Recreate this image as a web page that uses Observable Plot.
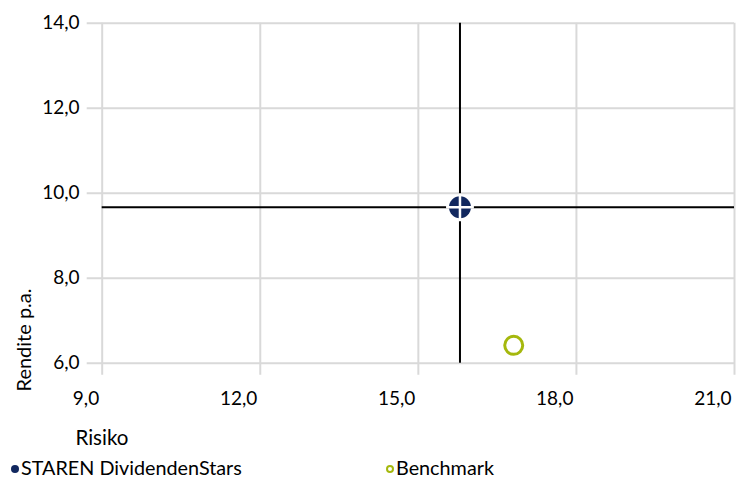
<!DOCTYPE html>
<html>
<head>
<meta charset="utf-8">
<script src="https://cdn.jsdelivr.net/npm/d3@7"></script>
<script src="https://cdn.jsdelivr.net/npm/@observablehq/plot@0.6"></script>
<style>
  body { margin: 0; background: #fff; font-family: Lato, "Open Sans", sans-serif; }
  #wrap { position: relative; width: 749px; height: 483px; }
  .legend { position: absolute; top: 455px; left: 0; width: 749px; height: 24px; font-size: 19.8px; color: #000; }
  .item { position: absolute; top: 0; line-height: 24px; white-space: nowrap; }
  .mk { display: inline-block; width: 8px; height: 8px; border-radius: 50%; box-sizing: border-box; vertical-align: middle; margin-right: 2px; position: relative; top: -1px; }
</style>
</head>
<body>
<div id="wrap"></div>
<script>
const names = ["STAREN DividendenStars", "Benchmark"];
const risk = [15.79, 16.81];
const ret = [9.67, 6.42];
const colors = ["#12285f", "#a5b80d"];
const xTicks = [9, 12, 15, 18, 21];
const yTicks = [6, 8, 10, 12, 14];
const xTitle = "Risiko";
const yTitle = "Rendite p.a.";

const fmt = d => d.toFixed(1).replace(".", ",");
const pts = names.map((n, i) => ({name: n, x: risk[i], y: ret[i]}));
const star = [pts[0]];
const bench = [pts[1]];
const FS = 19;

const chart = Plot.plot({
  width: 749,
  height: 450,
  marginTop: 22.7,
  marginLeft: 101.7,
  marginRight: 15,
  marginBottom: 87.3,
  style: {fontFamily: "Lato, 'Open Sans', sans-serif", fontSize: FS + "px", color: "#000", background: "#fff"},
  x: {domain: [9, 21], ticks: xTicks},
  y: {domain: [6, 14], ticks: yTicks},
  marks: [
    Plot.ruleX(xTicks, {y1: 14, y2: 6, stroke: "#d9d9d9", strokeWidth: 2, insetBottom: -12}),
    Plot.ruleY(yTicks, {x1: 9, x2: 21, stroke: "#d9d9d9", strokeWidth: 2, insetLeft: -15}),
    Plot.axisX(xTicks, {tickSize: 0, tickPadding: 28, tickFormat: fmt, textAnchor: "end", dx: -3, label: null, fontSize: FS, fill: "#000"}),
    Plot.axisY(yTicks, {tickSize: 0, tickPadding: 22.7, tickFormat: fmt, label: null, fontSize: FS, fill: "#000"}),
    Plot.ruleX(star, {x: "x", y1: 14, y2: 6, stroke: "#000", strokeWidth: 2}),
    Plot.ruleY(star, {y: "y", x1: 9, x2: 21, stroke: "#000", strokeWidth: 2}),
    Plot.dot(star, {x: "x", y: "y", r: 11, fill: colors[0], stroke: null}),
    Plot.dot(star, {x: "x", y: "y", r: 9, symbol: "plus", stroke: "#fff", strokeWidth: 2.5}),
    Plot.dot(bench, {x: "x", y: "y", r: 9, fill: "none", stroke: colors[1], strokeWidth: 3}),
    Plot.text([xTitle], {frameAnchor: "bottom-left", dx: 75 - 101.7, dy: 444 - 362.7, textAnchor: "start", fontSize: 20.5, fill: "#000"}),
    Plot.text([yTitle], {frameAnchor: "bottom-left", rotate: -90, dx: 30 - 101.7, dy: 391 - 362.7, textAnchor: "start", fontSize: 20, fill: "#000"})
  ]
});

const wrap = document.getElementById("wrap");
wrap.appendChild(chart);

const legend = document.createElement("div");
legend.className = "legend";
const lefts = [11, 386];
names.forEach((n, i) => {
  const it = document.createElement("span");
  it.className = "item";
  it.style.left = lefts[i] + "px";
  const mk = document.createElement("span");
  mk.className = "mk";
  if (i === 0) { mk.style.background = colors[0]; }
  else { mk.style.border = "2px solid " + colors[1]; mk.style.background = "#fff"; }
  it.appendChild(mk);
  it.appendChild(document.createTextNode(n));
  legend.appendChild(it);
});
wrap.appendChild(legend);
</script>
</body>
</html>
